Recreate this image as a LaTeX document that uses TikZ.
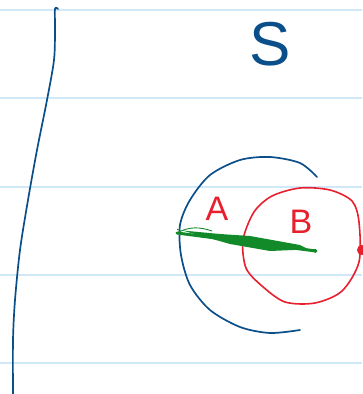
\documentclass[tikz,border=0pt]{standalone}
\usepackage{fontspec}
\setmainfont{Liberation Sans}
\usetikzlibrary{positioning}
\definecolor{penblue}{HTML}{0B4F8A}
\definecolor{penred}{HTML}{E8202E}
\definecolor{pengreen}{HTML}{138A2A}
\definecolor{ruled}{HTML}{CFE9F9}
\tikzset{
  rule/.style={draw=ruled, line width=1.6pt},
  bluepen/.style={draw=penblue, line width=1.7pt, line cap=round, line join=round},
  redpen/.style={draw=penred, line width=1.6pt, line cap=round, line join=round},
  greenpen/.style={draw=pengreen, line cap=round, line join=round},
  hand/.style={inner sep=0pt, font=\fontsize{#1}{#1}\selectfont},
}
\begin{document}
\begin{tikzpicture}[x=1pt, y=-1pt]
    \useasboundingbox (0,0) rectangle (362,394);
    % ruled lines
    \foreach \ly in {10,98,187,275,363}
      \draw[rule] (0,\ly) -- (362,\ly);
    % margin stroke
    \draw[bluepen] plot[smooth] coordinates {(58,9) (55,9) (55,30) (54,60) (47,100) (37,150) (28,200) (20,250) (15,300) (13,340) (13,394)};
    % sample space label
    \node[hand=62, text=penblue] (S) at (270,44) {S};
    % set A outline (open on the right)
    \draw[bluepen] plot[smooth] coordinates {(317,177) (300,163) (270,157) (240,160) (210,175) (190,200) (180,225) (181,255) (190,285) (210,310) (240,327) (270,333) (300,330)};
    % set B outline
    \draw[redpen] plot[smooth cycle] coordinates {(272,196) (300,188) (330,190) (352,201) (359,222) (359,262) (342,291) (315,303) (285,302) (262,286) (246,268) (243,240) (254,212)};
    \fill[penred] (362,250) circle (5);
    \node[hand=34, text=penred] (A) at (217,209) {A};
    \node[hand=34, text=penred] (B) at (301,222) {B};
    % chord, tapering to the right
    \coordinate (g0) at (177,233);
    \coordinate (g1) at (316,251);
    \fill[pengreen] (g0) ++(0,-3) -- (220,234) -- (250,236) -- (300,245) -- ([yshift=-2]g1)
      -- ([yshift=2]g1) -- (270,251) -- (230,244) -- ([yshift=4]g0) -- cycle;
    \draw[greenpen, line width=3pt] (g0) -- (g1);
    \draw[greenpen, line width=0.9pt] (g0) .. controls (190,226) and (200,227) .. (212,231);
  \end{tikzpicture}
\end{document}
